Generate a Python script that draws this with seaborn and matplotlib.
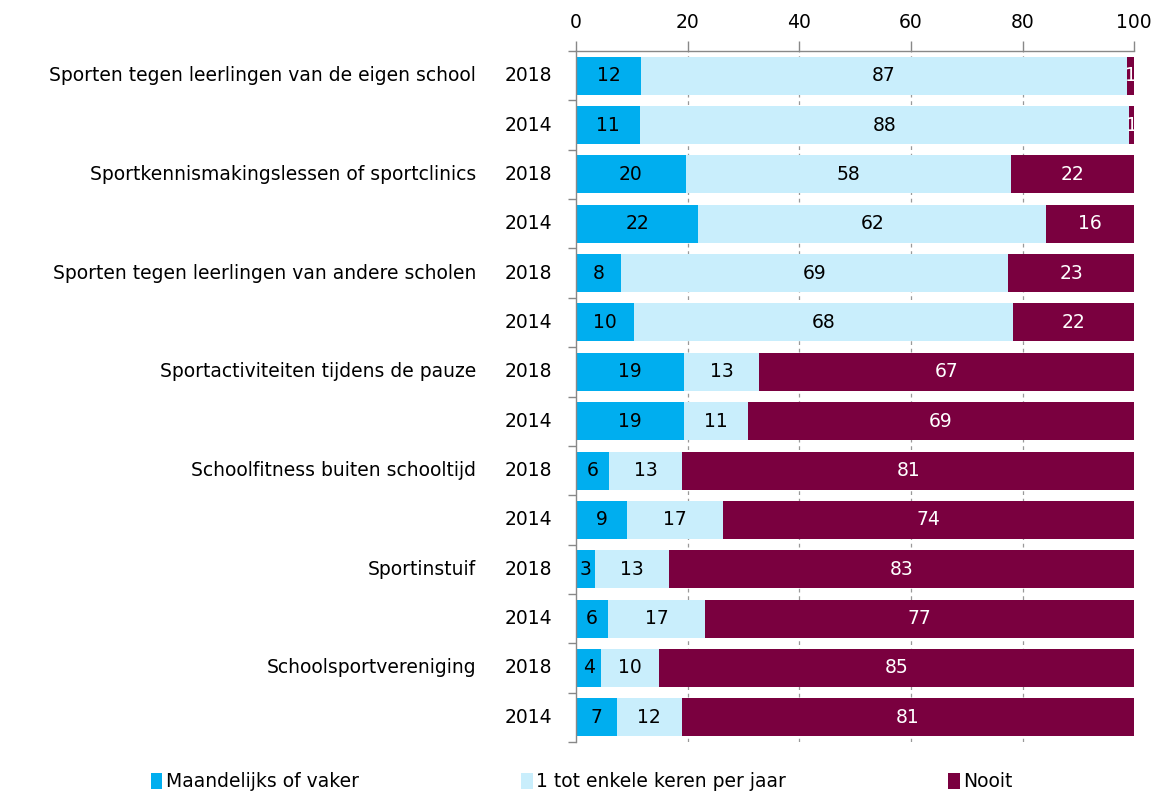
import numpy as np
import pandas as pd
import seaborn as sns
import matplotlib.pyplot as plt
from matplotlib.patches import Patch
from matplotlib.transforms import blended_transform_factory

# Data
activities = [
    "Sporten tegen leerlingen van de eigen school",
    "Sportkennismakingslessen of sportclinics",
    "Sporten tegen leerlingen van andere scholen",
    "Sportactiviteiten tijdens de pauze",
    "Schoolfitness buiten schooltijd",
    "Sportinstuif",
    "Schoolsportvereniging",
]
years = ["2018", "2014"]

monthly = [11.6, 11.4, 19.6, 21.9, 8.1, 10.4, 19.4, 19.4, 5.9, 9.1, 3.4, 5.7, 4.5, 7.3]
yearly = [87.1, 87.7, 58.4, 62.3, 69.3, 67.9, 13.4, 11.4, 13.1, 17.2, 13.3, 17.4, 10.4, 11.6]
never = [1.3, 0.9, 22.0, 15.8, 22.6, 21.7, 67.2, 69.2, 81.0, 73.7, 83.3, 76.9, 85.1, 81.1]

series_names = ["Maandelijks of vaker", "1 tot enkele keren per jaar", "Nooit"]
colors = ["#00AEEF", "#C9EEFC", "#7A003F"]
text_colors = ["black", "black", "white"]

df = pd.DataFrame({
    "row": range(len(monthly)),
    "activity": [a for a in activities for _ in years],
    "year": years * len(activities),
    "monthly": monthly,
    "yearly": yearly,
    "never": never,
})
df["cum1"] = df["monthly"]
df["cum2"] = df["monthly"] + df["yearly"]
df["cum3"] = df["cum2"] + df["never"]

sns.set_style("white")
plt.rcParams["font.family"] = ["DejaVu Sans"]
plt.rcParams["text.color"] = "black"
plt.rcParams["xtick.color"] = "#888888"
plt.rcParams["ytick.color"] = "#888888"
plt.rcParams["xtick.labelcolor"] = "black"
plt.rcParams["ytick.labelcolor"] = "black"
fs = 13.5

fig = plt.figure(figsize=(11.57, 7.93), dpi=100)
ax = fig.add_axes([0.498, 0.0643, 0.4822, 0.8714])

# stacked bars: draw totals first, then overlay shorter cumulative sums
for col, c in zip(["cum3", "cum2", "cum1"], colors[::-1]):
    sns.barplot(data=df, x=col, y="row", orient="h", color=c, width=0.77,
                saturation=1, ax=ax, linewidth=0)

# segment labels
for i, r in df.iterrows():
    lefts = [0, r["cum1"], r["cum2"]]
    vals = [r["monthly"], r["yearly"], r["never"]]
    for left, v, tc in zip(lefts, vals, text_colors):
        ax.text(left + v / 2, r["row"], f"{v:.0f}", ha="center", va="center",
                color=tc, fontsize=fs)

ax.set_xlim(0, 100)
ax.set_ylim(len(df) - 0.5, -0.5)
ax.set_xticks(np.arange(0, 101, 20))
ax.xaxis.tick_top()
ax.tick_params(axis="x", top=True, bottom=False, labelsize=fs, length=7,
               width=1, pad=7, direction="out")
ax.set_xlabel("")
ax.set_ylabel("")

for xv in [20, 40, 60, 80]:
    ax.axvline(xv, color="#999999", linestyle=(0, (3, 3)), linewidth=0.9, zorder=0)

# year tick labels, boundary ticks as minor
ax.set_yticks(df["row"])
ax.set_yticklabels(df["year"], va="center")
ax.set_yticks(np.arange(-0.5, len(df), 1), minor=True)
ax.tick_params(axis="y", which="major", left=False, length=0, labelsize=fs, pad=17)
ax.tick_params(axis="y", which="minor", left=True, length=6, width=1, direction="out")

trans = blended_transform_factory(fig.transFigure, ax.transData)
for _, r in df[df["year"] == "2018"].iterrows():
    ax.text(476 / 1157, r["row"], r["activity"], transform=trans, ha="right",
            va="center", fontsize=fs)

for s in ["right", "bottom"]:
    ax.spines[s].set_visible(False)
for s in ["left", "top"]:
    ax.spines[s].set_color("#888888")
    ax.spines[s].set_linewidth(1)

handles = [Patch(facecolor=c, edgecolor="none") for c in colors]
fig.legend(handles, series_names, loc="center", bbox_to_anchor=(0.503, 0.014),
           ncol=3, frameon=False, fontsize=fs, handlelength=0.6, handleheight=0.9,
           handletextpad=0.2, columnspacing=8.65)

fig.savefig("out.png", dpi=100)
